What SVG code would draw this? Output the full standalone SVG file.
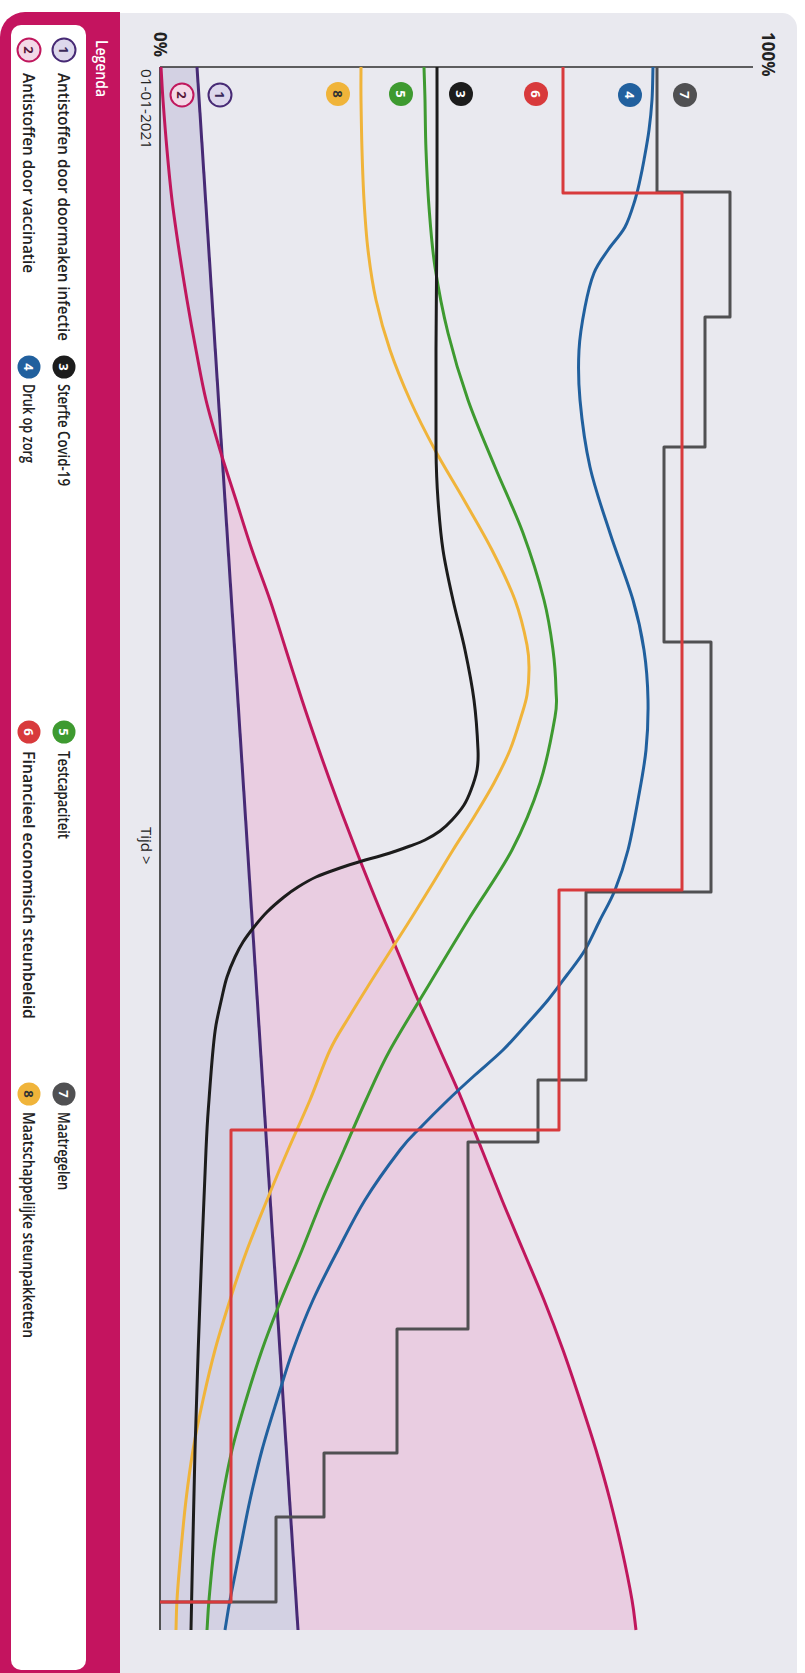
<svg xmlns="http://www.w3.org/2000/svg" width="805" height="1673" viewBox="0 0 805 1673">
<defs>
<style>
text{font-family:"Open Sans","Noto Sans","Liberation Sans",sans-serif;}
.ln{fill:none;stroke-width:3;stroke-linejoin:round;stroke-linecap:butt}
.ax{fill:none;stroke:#2e2e2e;stroke-width:1.6}
.num{font-size:13px;font-weight:700;text-anchor:middle;dominant-baseline:central;fill:#fff}
.lg{font-size:16px;font-weight:600;fill:#222;dominant-baseline:central}
.lbl{fill:#222;dominant-baseline:central}
.c1{fill:#ddd8ec;stroke:#472a75;stroke-width:2}
.c2{fill:#f3d9e7;stroke:#c0175d;stroke-width:2}
</style>
</defs>
<rect width="805" height="1673" fill="#fff"/>
<path id="paper" d="M118,13 H782 A15,15 0 0 1 797,28 V1673 H118 Z" fill="#e9e9ef"/>

<g id="legend">
<path d="M25,12 H120 V1673 H0 V37 A25,25 0 0 1 25,12 Z" fill="#c4145f"/>
<rect x="11" y="25" width="75" height="1645" rx="10" fill="#fff"/>
<text x="102" y="40" transform="rotate(90 102 40)" font-size="16" font-weight="600" fill="#fff" dominant-baseline="central" textLength="57" lengthAdjust="spacingAndGlyphs">Legenda</text>
<g id="leg1"><circle class="c1" cx="64" cy="50" r="11.5"/><text class="num" x="64" y="50" style="fill:#3a2a5a" transform="rotate(90 64 50)">1</text>
<text class="lg" x="64" y="73" transform="rotate(90 64 73)" textLength="268" lengthAdjust="spacingAndGlyphs">Antistoffen door doormaken infectie</text></g>
<g id="leg2"><circle class="c2" cx="29" cy="50" r="11.5"/><text class="num" x="29" y="50" style="fill:#5a1a3a" transform="rotate(90 29 50)">2</text>
<text class="lg" x="29" y="73" transform="rotate(90 29 73)" textLength="200" lengthAdjust="spacingAndGlyphs">Antistoffen door vaccinatie</text></g>
<g id="leg3"><circle cx="64" cy="367" r="11.5" fill="#1c1c1c"/><text class="num" x="64" y="367" transform="rotate(90 64 367)">3</text>
<text class="lg" x="64" y="384" transform="rotate(90 64 384)" textLength="102" lengthAdjust="spacingAndGlyphs">Sterfte Covid-19</text></g>
<g id="leg4"><circle cx="29" cy="367" r="11.5" fill="#21609e"/><text class="num" x="29" y="367" transform="rotate(90 29 367)">4</text>
<text class="lg" x="29" y="384" transform="rotate(90 29 384)" textLength="79" lengthAdjust="spacingAndGlyphs">Druk op zorg</text></g>
<g id="leg5"><circle cx="64" cy="732" r="11.5" fill="#3e9a30"/><text class="num" x="64" y="732" transform="rotate(90 64 732)">5</text>
<text class="lg" x="64" y="751" transform="rotate(90 64 751)" textLength="88" lengthAdjust="spacingAndGlyphs">Testcapaciteit</text></g>
<g id="leg6"><circle cx="29" cy="732" r="11.5" fill="#d83a3c"/><text class="num" x="29" y="732" transform="rotate(90 29 732)">6</text>
<text class="lg" x="29" y="751" transform="rotate(90 29 751)" textLength="268" lengthAdjust="spacingAndGlyphs">Financieel economisch steunbeleid</text></g>
<g id="leg7"><circle cx="64" cy="1094" r="11.5" fill="#505052"/><text class="num" x="64" y="1094" transform="rotate(90 64 1094)">7</text>
<text class="lg" x="64" y="1112" transform="rotate(90 64 1112)" textLength="78" lengthAdjust="spacingAndGlyphs">Maatregelen</text></g>
<g id="leg8"><circle cx="29" cy="1094" r="11.5" fill="#f0b43a"/><text class="num" x="29" y="1094" style="fill:#333" transform="rotate(90 29 1094)">8</text>
<text class="lg" x="29" y="1112" transform="rotate(90 29 1112)" textLength="226" lengthAdjust="spacingAndGlyphs">Maatschappelijke steunpakketten</text></g>
</g>

<g id="fills">
<path fill="#e9cde1" d="M160,67 L161,67 C161.7,78 162,86.2 163,100 S165.5,133.3 167,150 S170,183.3 172,200 S176.5,233.3 179,250 S184.2,283.3 187,300 S192.8,333.3 196,350 S202,383.3 206,400 S215,433.3 220,450 S230.7,483.3 236,500 S246.3,533.3 252,550 S264.3,583.3 270,600 S280.7,633.3 286,650 S296.5,683.3 302,700 S313.2,733.3 319,750 S330.8,783.3 337,800 S349.5,833.3 356,850 S369.2,883.3 376,900 S390,933.3 397,950 S410.8,983.3 418,1000 S432.7,1033.3 440,1050 S455,1083.3 462,1100 S475.3,1133.3 482,1150 S495.2,1183.3 502,1200 S516,1233.3 523,1250 S537.3,1283.3 544,1300 S557,1333.3 563,1350 S574.5,1383.3 580,1400 S591,1433.3 596,1450 S605.7,1483.3 610,1500 S618.3,1533.3 622,1550 S629.7,1586.7 632,1600 S634.7,1620 636,1630 L160,1630 Z"/>
<path fill="#d3d1e3" d="M160,67 L197,67 L298,1630 L160,1630 Z"/>
</g>

<g id="axes">
<path class="ax" d="M160,67 V1630"/>
<path class="ax" d="M160,67 H753"/>
<text class="lbl" x="160" y="32" transform="rotate(90 160 32)" font-size="17" font-weight="700">0%</text>
<text class="lbl" x="768" y="32" transform="rotate(90 768 32)" font-size="17" font-weight="700">100%</text>
<text class="lbl" x="147" y="69" transform="rotate(90 147 69)" font-size="15" textLength="80" lengthAdjust="spacingAndGlyphs">01-01-2021</text>
<text class="lbl" x="147" y="827" transform="rotate(90 147 827)" font-size="15">Tijd &gt;</text>
</g>

<g id="connectors">
<path id="s1" class="ln" stroke="#472a75" d="M197,67 L298,1630"/>
<path id="s2" class="ln" stroke="#c0175d" d="M161,67 C161.7,78 162,86.2 163,100 S165.5,133.3 167,150 S170,183.3 172,200 S176.5,233.3 179,250 S184.2,283.3 187,300 S192.8,333.3 196,350 S202,383.3 206,400 S215,433.3 220,450 S230.7,483.3 236,500 S246.3,533.3 252,550 S264.3,583.3 270,600 S280.7,633.3 286,650 S296.5,683.3 302,700 S313.2,733.3 319,750 S330.8,783.3 337,800 S349.5,833.3 356,850 S369.2,883.3 376,900 S390,933.3 397,950 S410.8,983.3 418,1000 S432.7,1033.3 440,1050 S455,1083.3 462,1100 S475.3,1133.3 482,1150 S495.2,1183.3 502,1200 S516,1233.3 523,1250 S537.3,1283.3 544,1300 S557,1333.3 563,1350 S574.5,1383.3 580,1400 S591,1433.3 596,1450 S605.7,1483.3 610,1500 S618.3,1533.3 622,1550 S629.7,1586.7 632,1600 S634.7,1620 636,1630"/>
<path id="s8" class="ln" stroke="#f0b43a" d="M361,67 C361,78 360.8,86.2 361,100 S361.5,133.3 362,150 S363,183.3 364,200 S366,233.3 368,250 S372.3,283.3 376,300 S384.3,333.3 390,350 S402.5,383.3 410,400 S426,433.3 435,450 S454.5,483.3 464,500 S483.5,533.3 492,550 S509.2,584.2 515,600 S524.7,633.3 527,645 S529,661.7 529,670 S528.3,687.2 527,695 S523.8,707.8 521,717 S514.5,739 510,750 S500,771.8 494,783 S480.8,805.8 474,817 S459.8,839 453,850 S439.8,871.8 433,883 S419,905.8 412,917 S398,939 391,950 S377,971.8 370,983 S355.7,1005.8 349,1017 S336.5,1036.2 330,1050 S317,1083.3 310,1100 S295.2,1133.3 288,1150 S273.8,1183.3 267,1200 S253.2,1233.3 247,1250 S235.3,1283.3 230,1300 S219.5,1333.3 215,1350 S206.7,1383.3 203,1400 S195.8,1433.3 193,1450 S188,1483.3 186,1500 S182.5,1533.3 181,1550 S177.8,1586.7 177,1600 S176.3,1620 176,1630"/>
<path id="s5" class="ln" stroke="#3e9a30" d="M424,67 C424.3,78 424.7,86.2 425,100 S425.3,132.2 426,150 S427.5,187.5 429,207 S431.8,246 435,267 S442.5,310.8 448,333 S460.2,377.7 468,400 S485.8,444.8 495,467 S514.8,510.8 523,533 S539,580.5 544,600 S551,635 553,650 S555.7,678.8 556,690 S557.7,701.5 555,717 S547.2,760.8 540,783 S523.7,827.7 512,850 S483.7,894.8 470,917 S443.3,960.8 430,983 S400.7,1030.5 390,1050 S373.7,1083.3 366,1100 S351.3,1133.3 344,1150 S329,1183.3 322,1200 S308.8,1233.3 302,1250 S287.7,1283.3 281,1300 S267.8,1333.3 262,1350 S251,1383.3 246,1400 S236,1433.3 232,1450 S225,1483.3 222,1500 S216.2,1533.3 214,1550 S210.2,1586.7 209,1600 S207.7,1620 207,1630"/>
<path id="s3" class="ln" stroke="#1c1c1c" d="M437,67 C437,111.3 437.2,152.8 437,200 S436.2,308.3 436,350 S435.7,425 436,450 S436.8,483.3 438,500 S440.5,533.3 443,550 S449.3,583.3 453,600 S461.5,633.3 465,650 S471.8,683.3 474,700 S477.5,738.3 478,750 S478.2,763.3 477,770 S473.2,784.2 471,790 S467.2,800 464,805 S456,815.7 452,820 S444.5,827.7 440,831 S430,837.5 425,840 S414.8,844.2 410,846 S401,849.3 396,851 S385.7,854.3 380,856 S368.7,859 362,861 S347.7,865.3 340,868 S323,873.8 316,877 S303.3,883.7 298,887 S289.2,892.8 284,897 S272,907 267,912 S258,922 254,927 S246.2,937 243,942 S237.7,951.2 235,957 S229.2,970.3 227,977 S223.8,989 222,997 S217.5,1016.2 216,1025 S214.2,1037.5 213,1050 S210.2,1083.3 209,1100 S207.5,1116.7 206,1150 S201.8,1250 200,1300 S196.5,1395 195,1450 S192.3,1570 191,1630"/>
<path id="s4" class="ln" stroke="#21609e" d="M653,67 C652.7,78 652.7,89.5 652,100 S650.3,120 649,130 S645.5,151.7 644,160 S641.5,173.3 640,180 S637.5,192.2 635,200 S629.5,218.7 625,227 S613.2,242.3 608,250 S597.8,263.5 594,273 S587.5,294.2 585,307 S579.8,334.5 579,350 S578.2,380.5 580,400 S585,444.8 590,467 S602.8,510.8 610,533 S627.3,580.5 633,600 S641.5,633.3 644,650 S647.7,683.3 648,700 S647.7,733.3 646,750 S641,783.3 638,800 S631.8,835 628,850 S619.7,878.3 615,890 S605,910 600,920 S590.5,940.8 585,950 S573.2,966.7 567,975 S554.8,991.7 548,1000 S533.5,1016.7 526,1025 S511.5,1041.7 503,1050 S484.2,1066.7 475,1075 S457,1091.3 448,1100 S429,1118.7 421,1127 S409.3,1137.8 400,1150 S375.3,1183.3 365,1200 S346.7,1233.3 338,1250 S320.5,1283.3 313,1300 S299,1333.3 293,1350 S282.2,1383.3 277,1400 S266.5,1433.3 262,1450 S253.7,1483.3 250,1500 S243.3,1533.3 240,1550 S232.5,1586.7 230,1600 S226.7,1620 225,1630"/>
<path id="s7" class="ln" stroke="#505052" d="M657,67 V192 H730 V317 H705 V447 H664 V642 H711 V892 H586 V1080 H538 V1142 H468 V1329 H397 V1453 H324 V1517 H276 V1602 H160"/>
<path id="s6" class="ln" stroke="#d83a3c" d="M563,67 V193 H682 V890 H559 V1130 H231 V1602 H160"/>
</g>

<g id="markers">
<g id="m2"><circle class="c2" cx="182" cy="95" r="11.5"/><text class="num" x="182" y="95" style="fill:#5a1a3a" transform="rotate(90 182 95)">2</text></g>
<g id="m1"><circle class="c1" cx="220" cy="95" r="11.5"/><text class="num" x="220" y="95" style="fill:#3a2a5a" transform="rotate(90 220 95)">1</text></g>
<g id="m8"><circle cx="338" cy="94" r="12" fill="#f0b43a"/><text class="num" x="338" y="94" style="fill:#333" transform="rotate(90 338 94)">8</text></g>
<g id="m5"><circle cx="401" cy="94" r="12" fill="#3e9a30"/><text class="num" x="401" y="94" transform="rotate(90 401 94)">5</text></g>
<g id="m3"><circle cx="461" cy="94" r="12" fill="#1c1c1c"/><text class="num" x="461" y="94" transform="rotate(90 461 94)">3</text></g>
<g id="m6"><circle cx="536" cy="94" r="12" fill="#d83a3c"/><text class="num" x="536" y="94" transform="rotate(90 536 94)">6</text></g>
<g id="m4"><circle cx="630" cy="95" r="12" fill="#21609e"/><text class="num" x="630" y="95" transform="rotate(90 630 95)">4</text></g>
<g id="m7"><circle cx="685" cy="95" r="12" fill="#505052"/><text class="num" x="685" y="95" transform="rotate(90 685 95)">7</text></g>
</g>
</svg>
